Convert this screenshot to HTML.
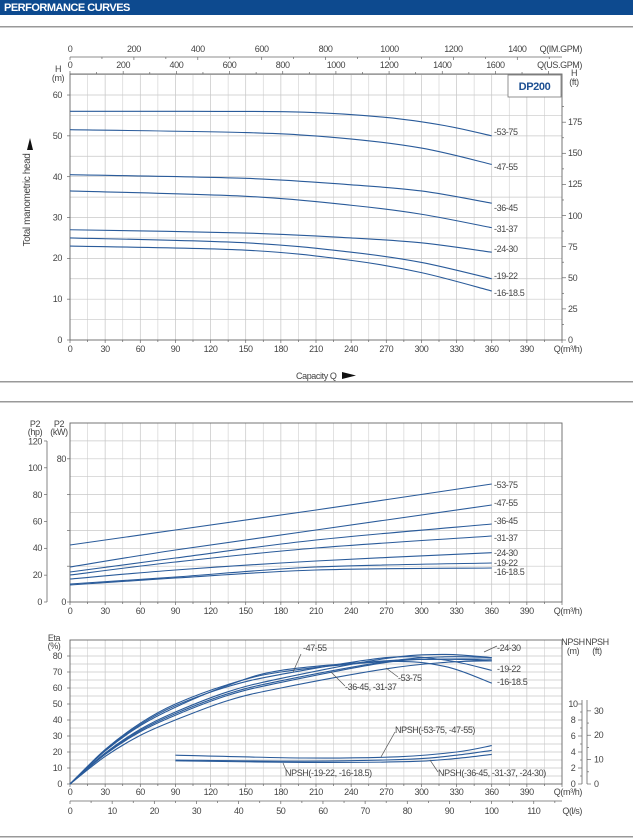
<!DOCTYPE html>
<html><head><meta charset="utf-8"><style>
html,body{margin:0;padding:0;background:#fff}
svg{display:block}
text{font-family:"Liberation Sans",sans-serif;font-size:9px;fill:#444}
.t{letter-spacing:-0.4px}
</style></head><body>
<svg id="s" width="633" height="840" viewBox="0 0 633 840" xmlns="http://www.w3.org/2000/svg">
<rect x="0" y="0" width="633" height="15" fill="#0d4a8f"/>
<text x="4" y="11" style="font-size:11px;font-weight:bold;fill:#fff;letter-spacing:-0.5px">PERFORMANCE CURVES</text>
<rect x="0" y="26" width="633" height="1.5" fill="#999"/>
<rect x="0" y="381" width="633" height="1.5" fill="#999"/>
<rect x="0" y="401" width="633" height="1.5" fill="#999"/>
<rect x="0" y="836" width="633" height="1.5" fill="#999"/>
<g id="grid"></g>
<g id="curves" fill="none" stroke="#2a5b9a" stroke-width="1.1"></g>
<g id="lead" fill="none" stroke="#555" stroke-width="0.7">
<line x1="301" y1="654" x2="293" y2="672"/>
<line x1="484" y1="652" x2="497" y2="646"/>
<line x1="386" y1="668" x2="398" y2="677"/>
<line x1="331" y1="672" x2="345" y2="686"/>
<line x1="395" y1="732" x2="381" y2="757"/>
<line x1="283" y1="763" x2="286" y2="770"/>
<line x1="430" y1="760" x2="438" y2="772"/>
</g>
<g class="t">
<g text-anchor="middle">
<text x="70" y="52">0</text><text x="133.9" y="52">200</text><text x="197.8" y="52">400</text><text x="261.7" y="52">600</text><text x="325.6" y="52">800</text><text x="389.5" y="52">1000</text><text x="453.4" y="52">1200</text><text x="517.3" y="52">1400</text>
<text x="70" y="68">0</text><text x="123.2" y="68">200</text><text x="176.4" y="68">400</text><text x="229.5" y="68">600</text><text x="282.7" y="68">800</text><text x="335.9" y="68">1000</text><text x="389.1" y="68">1200</text><text x="442.3" y="68">1400</text><text x="495.4" y="68">1600</text>
</g>
<text x="582" y="52" text-anchor="end">Q(IM.GPM)</text>
<text x="582" y="68" text-anchor="end">Q(US.GPM)</text>
<text x="58" y="72" text-anchor="middle">H</text><text x="58" y="81" text-anchor="middle">(m)</text>
<text x="574" y="76" text-anchor="middle">H</text><text x="574" y="85" text-anchor="middle">(ft)</text>
<g text-anchor="end">
<text x="62" y="343">0</text><text x="62" y="302">10</text><text x="62" y="261">20</text><text x="62" y="220.5">30</text><text x="62" y="180">40</text><text x="62" y="139">50</text><text x="62" y="98">60</text>
</g>
<g>
<text x="568" y="343">0</text><text x="568" y="312">25</text><text x="568" y="281">50</text><text x="568" y="250">75</text><text x="568" y="219">100</text><text x="568" y="187">125</text><text x="568" y="156">150</text><text x="568" y="125">175</text>
</g>
<text x="30" y="200" transform="rotate(-90 30 200)" text-anchor="middle" style="font-size:10px">Total manometric head</text>
<text x="296" y="379" style="font-size:9px">Capacity Q</text>
<g style="font-size:9px">
<text x="494" y="135">-53-75</text><text x="494" y="170">-47-55</text><text x="494" y="211">-36-45</text><text x="494" y="232">-31-37</text><text x="494" y="252">-24-30</text><text x="494" y="279">-19-22</text><text x="494" y="296">-16-18.5</text>
</g>
<text x="35" y="427" text-anchor="middle">P2</text><text x="35" y="435" text-anchor="middle">(hp)</text>
<text x="59" y="427" text-anchor="middle">P2</text><text x="59" y="435" text-anchor="middle">(kW)</text>
<g text-anchor="end">
<text x="42" y="605">0</text><text x="42" y="578">20</text><text x="42" y="551">40</text><text x="42" y="524.5">60</text><text x="42" y="498">80</text><text x="42" y="471">100</text><text x="42" y="444.5">120</text>
<text x="66" y="605">0</text><text x="66" y="462">80</text>
</g>
<g style="font-size:9px">
<text x="494" y="488">-53-75</text><text x="494" y="506">-47-55</text><text x="494" y="524">-36-45</text><text x="494" y="541">-31-37</text><text x="494" y="556">-24-30</text><text x="494" y="566">-19-22</text><text x="494" y="575">-16-18.5</text>
</g>
<text x="54" y="641" text-anchor="middle">Eta</text><text x="54" y="649" text-anchor="middle">(%)</text>
<g text-anchor="end">
<text x="62" y="787">0</text><text x="62" y="771">10</text><text x="62" y="755">20</text><text x="62" y="739">30</text><text x="62" y="723">40</text><text x="62" y="707">50</text><text x="62" y="691">60</text><text x="62" y="675">70</text><text x="62" y="659">80</text>
</g>
<g text-anchor="middle">
<text x="70" y="814">0</text><text x="112.2" y="814">10</text><text x="154.3" y="814">20</text><text x="196.5" y="814">30</text><text x="238.6" y="814">40</text><text x="280.8" y="814">50</text><text x="323" y="814">60</text><text x="365.1" y="814">70</text><text x="407.3" y="814">80</text><text x="449.4" y="814">90</text><text x="491.6" y="814">100</text><text x="533.8" y="814">110</text>
</g>
<text x="582" y="814" text-anchor="end">Q(l/s)</text>
<text x="573" y="645" text-anchor="middle">NPSH</text><text x="573" y="654" text-anchor="middle">(m)</text>
<text x="597" y="645" text-anchor="middle">NPSH</text><text x="597" y="654" text-anchor="middle">(ft)</text>
<g text-anchor="middle">
<text x="573" y="787">0</text><text x="573" y="771">2</text><text x="573" y="755">4</text><text x="573" y="739">6</text><text x="573" y="723">8</text><text x="573" y="707">10</text>
</g>
<g>
<text x="594" y="787">0</text><text x="594" y="762.6">10</text><text x="594" y="738">20</text><text x="594" y="714">30</text>
</g>
<g style="font-size:9px">
<text x="303" y="651">-47-55</text>
<text x="497" y="651">-24-30</text>
<text x="497" y="672">-19-22</text>
<text x="497" y="685">-16-18.5</text>
<text x="398" y="681">-53-75</text>
<text x="345" y="690">-36-45, -31-37</text>
<text x="395" y="733">NPSH(-53-75, -47-55)</text>
<text x="285" y="776">NPSH(-19-22, -16-18.5)</text>
<text x="438" y="776">NPSH(-36-45, -31-37, -24-30)</text>
</g>
<g text-anchor="middle">
<text x="70" y="352">0</text><text x="105.1" y="352">30</text><text x="140.3" y="352">60</text><text x="175.4" y="352">90</text><text x="210.6" y="352">120</text><text x="245.7" y="352">150</text><text x="280.8" y="352">180</text><text x="316" y="352">210</text><text x="351.1" y="352">240</text><text x="386.3" y="352">270</text><text x="421.4" y="352">300</text><text x="456.5" y="352">330</text><text x="491.7" y="352">360</text><text x="526.8" y="352">390</text>
<text x="70" y="614">0</text><text x="105.1" y="614">30</text><text x="140.3" y="614">60</text><text x="175.4" y="614">90</text><text x="210.6" y="614">120</text><text x="245.7" y="614">150</text><text x="280.8" y="614">180</text><text x="316" y="614">210</text><text x="351.1" y="614">240</text><text x="386.3" y="614">270</text><text x="421.4" y="614">300</text><text x="456.5" y="614">330</text><text x="491.7" y="614">360</text><text x="526.8" y="614">390</text>
<text x="70" y="795">0</text><text x="105.1" y="795">30</text><text x="140.3" y="795">60</text><text x="175.4" y="795">90</text><text x="210.6" y="795">120</text><text x="245.7" y="795">150</text><text x="280.8" y="795">180</text><text x="316" y="795">210</text><text x="351.1" y="795">240</text><text x="386.3" y="795">270</text><text x="421.4" y="795">300</text><text x="456.5" y="795">330</text><text x="491.7" y="795">360</text><text x="526.8" y="795">390</text>
</g>
<g text-anchor="end">
<text x="582" y="352">Q(m³/h)</text><text x="582" y="614">Q(m³/h)</text><text x="582" y="795">Q(m³/h)</text>
</g>
</g>
<rect x="508" y="75" width="53" height="22" fill="#fff" stroke="#777" stroke-width="0.8"/>
<text x="534.5" y="90" text-anchor="middle" style="font-size:11px;font-weight:bold;fill:#1d4f92;letter-spacing:-0.4px">DP200</text>
<polygon points="30,138 27,150 33,150" fill="#111"/>
<polygon points="342,372 342,379 356,375.5" fill="#111"/>
</svg>
<script>
const NS="http://www.w3.org/2000/svg";
const g=document.getElementById('grid'),cv=document.getElementById('curves');
function el(p,tag,a){const e=document.createElementNS(NS,tag);for(const k in a)e.setAttribute(k,a[k]);p.appendChild(e);return e;}
const L=70,R=562,K=(R-L)/420;const X=q=>L+q*K;
function grid(top,bot,ys){
 for(let q=15;q<420;q+=15){el(g,'line',{x1:X(q),x2:X(q),y1:top,y2:bot,stroke:q%30?'#d6d6d6':'#c4c4c4','stroke-width':0.7});}
 ys.forEach(y=>el(g,'line',{x1:L,x2:R,y1:y,y2:y,stroke:'#c8c8c8','stroke-width':0.7}));
 el(g,'rect',{x:L,y:top,width:R-L,height:bot-top,fill:'none',stroke:'#666','stroke-width':0.9});
 for(let q=0;q<=420;q+=15){el(g,'line',{x1:X(q),x2:X(q),y1:bot,y2:bot+(q%30?2:3),stroke:'#666','stroke-width':0.7});}
}
let ys=[];for(let h=5;h<=65;h+=5)ys.push(340-h*4.083);grid(74,340,ys);
for(let h=0;h<=60;h+=10)el(g,'line',{x1:L-3,x2:L,y1:340-h*4.083,y2:340-h*4.083,stroke:'#666','stroke-width':0.7});
for(let f=0;f<=187.5;f+=12.5){const y=340-f*1.2446;el(g,'line',{x1:R,x2:R+(f%25?2:4),y1:y,y2:y,stroke:'#666','stroke-width':0.7});}
el(g,'line',{x1:L,x2:R,y1:57,y2:57,stroke:'#666','stroke-width':0.8});
for(let i=0;i<=1500;i+=100){const x=L+i*0.3195;if(x<=R)el(g,'line',{x1:x,x2:x,y1:57,y2:i%200?59:60,stroke:'#666','stroke-width':0.7});}
for(let i=0;i<=1800;i+=100){const x=L+i*0.2659;if(x<=R)el(g,'line',{x1:x,x2:x,y1:74,y2:i%200?72:71,stroke:'#666','stroke-width':0.7});}
ys=[];for(let k=10;k<100;k+=10)ys.push(602-k*1.79);grid(423,602,ys);
el(g,'line',{x1:47,x2:47,y1:441,y2:602,stroke:'#666','stroke-width':0.8});
for(let h=0;h<=120;h+=20)el(g,'line',{x1:44,x2:47,y1:602-h*1.342,y2:602-h*1.342,stroke:'#666','stroke-width':0.7});
for(let k=0;k<=80;k+=20)el(g,'line',{x1:L-3,x2:L,y1:602-k*1.79,y2:602-k*1.79,stroke:'#666','stroke-width':0.7});
ys=[];for(let e=5;e<90;e+=5)ys.push(784-e*1.6);grid(640,784,ys);
for(let e=0;e<=80;e+=10)el(g,'line',{x1:L-3,x2:L,y1:784-e*1.6,y2:784-e*1.6,stroke:'#666','stroke-width':0.7});
el(g,'line',{x1:L,x2:R,y1:801,y2:801,stroke:'#666','stroke-width':0.8});
for(let l=0;l<=115;l+=5){const x=L+l*4.216;if(x<=R)el(g,'line',{x1:x,x2:x,y1:801,y2:l%10?803:804,stroke:'#666','stroke-width':0.7});}
el(g,'line',{x1:582,x2:582,y1:700,y2:784,stroke:'#666','stroke-width':0.8});
for(let m=0;m<=10;m+=1)el(g,'line',{x1:m%2?580:578,x2:582,y1:784-m*8,y2:784-m*8,stroke:'#666','stroke-width':0.7});
el(g,'line',{x1:587,x2:587,y1:700,y2:784,stroke:'#666','stroke-width':0.8});
for(let f=0;f<=30;f+=5)el(g,'line',{x1:587,x2:f%10?589:591,y1:784-f*2.438,y2:784-f*2.438,stroke:'#666','stroke-width':0.7});
function path(pts){let d='M'+pts[0][0]+','+pts[0][1];
 for(let i=0;i<pts.length-1;i++){const p0=pts[i-1]||pts[i],p1=pts[i],p2=pts[i+1],p3=pts[i+2]||p2;
 d+=' C'+(p1[0]+(p2[0]-p0[0])/6)+','+(p1[1]+(p2[1]-p0[1])/6)+' '+(p2[0]-(p3[0]-p1[0])/6)+','+(p2[1]-(p3[1]-p1[1])/6)+' '+p2[0]+','+p2[1];}
 el(cv,'path',{d});}
const HY=h=>340-h*4.083;
[[[0,56],[100,56],[200,55.8],[270,54.5],[320,52.5],[360,50]],
 [[0,51.5],[150,50.8],[230,49.5],[300,47],[360,43]],
 [[0,40.5],[150,39.6],[240,38],[300,36.5],[360,33.5]],
 [[0,36.5],[150,35.2],[240,33],[300,30.8],[360,27.5]],
 [[0,27],[150,26.2],[240,25],[300,23.8],[360,21.5]],
 [[0,25],[150,23.8],[240,21.5],[300,19],[360,15]],
 [[0,23],[150,22],[240,19.5],[300,16.5],[360,12]]].forEach(c=>path(c.map(p=>[X(p[0]),HY(p[1])])));
[[545,530,510,484],[567,550,530,505],[572,558,540,524],[575,562,548,536],[579,570,561,552.7],[584,577,567,563],[585,578,570,568]]
 .forEach(c=>path([[X(0),c[0]],[X(90),c[1]],[X(210),c[2]],[X(360),c[3]]]));
const EY=e=>784-e*1.6;
// eta: [e90, e180, e270, e320, e360]
[[50,70,76.5,73.5,63],[49,68.5,79,77.5,71],[48,71,77,78,77],[45,66,78.5,81,79],[44,64.5,76.5,79.5,79],[43,63.5,76,78,78],[40,60,72,76,77]]
 .forEach(v=>{const pts=[[0,0],[30,v[0]*0.43],[60,v[0]*0.76],[90,v[0]],[135,(v[0]+v[1])/2+2.2],[180,v[1]],[270,v[2]],[320,v[3]],[360,v[4]]];
 path(pts.map(p=>[X(p[0]),EY(p[1])]));});
const NY=m=>784-m*8;
[[[90,3.6],[200,3.25],[280,3.4],[330,4],[360,4.8]],
 [[90,3.0],[200,2.85],[290,3.1],[330,3.6],[360,4.2]],
 [[90,2.9],[200,2.7],[290,2.8],[330,3.2],[360,3.7]]].forEach(c=>path(c.map(p=>[X(p[0]),NY(p[1])])));
</script>
</body></html>
